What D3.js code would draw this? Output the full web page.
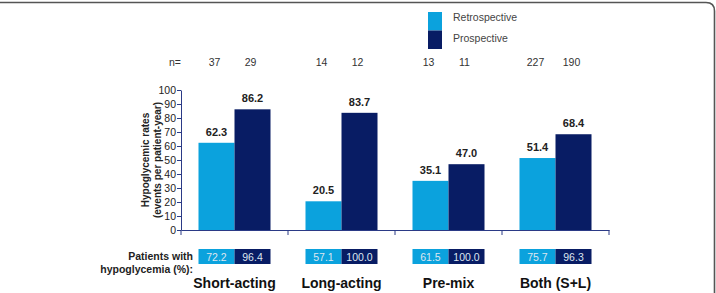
<!DOCTYPE html>
<html>
<head>
<meta charset="utf-8">
<script src="https://cdn.jsdelivr.net/npm/d3@7"></script>
<style>
  body { margin: 0; background: #fff; }
  text { font-family: "Liberation Sans", Arial, sans-serif; }
</style>
</head>
<body>
<div id="chart"></div>
<script>
// data
const categories = ['Short-acting', 'Long-acting', 'Pre-mix', 'Both (S+L)'];
const seriesNames = ['Retrospective', 'Prospective'];
const retroRates = [62.3, 20.5, 35.1, 51.4];
const prosRates = [86.2, 83.7, 47.0, 68.4];
const retroN = [37, 14, 13, 227];
const prosN = [29, 12, 11, 190];
const retroPct = ['72.2', '57.1', '61.5', '75.7'];
const prosPct = ['96.4', '100.0', '100.0', '96.3'];
const yTicks = [0, 10, 20, 30, 40, 50, 60, 70, 80, 90, 100];

const width = 716, height = 293;
const colors = ['#0ba2dd', '#081c64'];
const axisColor = '#2b3a86';
const x0 = 181;

const svg = d3.select('#chart').append('svg')
  .attr('width', width).attr('height', height);

// frame (rounded corner top-right)
svg.append('path')
  .attr('d', 'M-10,2.5 L706,2.5 Q714.5,2.5 714.5,11 L714.5,300')
  .attr('fill', 'none').attr('stroke', '#555').attr('stroke-width', 1.6);

// band: step 107, bars 72 wide, centred in each category
const x = d3.scaleBand().domain(categories).range([x0, 609])
  .paddingInner(0.327).paddingOuter(0.1635);
const sub = d3.scaleBand().domain(seriesNames).range([0, x.bandwidth()]);
const y = d3.scaleLinear().domain([0, 100]).range([230, 90]);

// y axis
const yAxis = svg.append('g').attr('transform', `translate(${x0},0)`)
  .call(d3.axisLeft(y).tickValues(yTicks).tickSize(4).tickSizeOuter(0));
yAxis.select('.domain').attr('stroke', axisColor);
yAxis.selectAll('.tick line').attr('stroke', axisColor);
yAxis.selectAll('.tick text').attr('fill', '#222').attr('font-size', 10.5)
  .attr('font-family', '"Liberation Sans", Arial, sans-serif').attr('x', -5);

// x axis
const xAxis = svg.append('g').attr('transform', 'translate(0,230)')
  .call(d3.axisBottom(x).tickSize(0).tickFormat(''));
xAxis.select('.domain').attr('stroke', axisColor);
xAxis.selectAll('.tick').remove();
const bounds = [x0].concat(categories.map(c => x(c) + x.bandwidth() / 2 + x.step() / 2));
svg.append('g').selectAll('line').data(bounds).join('line')
  .attr('x1', d => d).attr('x2', d => d).attr('y1', 230).attr('y2', 235)
  .attr('stroke', axisColor);

// y title
const yt = svg.append('text').attr('transform', 'translate(149,160) rotate(-90)')
  .attr('text-anchor', 'middle').attr('font-weight', 'bold').attr('font-size', 10)
  .attr('fill', '#222');
yt.append('tspan').attr('x', 0).attr('dy', 0).text('Hypoglycemic rates');
yt.append('tspan').attr('x', 0).attr('dy', 11.5).text('(events per patient-year)');

// bars
const series = [retroRates, prosRates];
series.forEach((vals, si) => {
  const g = svg.append('g');
  g.selectAll('rect').data(vals).join('rect')
    .attr('x', (d, i) => x(categories[i]) + sub(seriesNames[si]))
    .attr('y', d => y(d))
    .attr('width', sub.bandwidth())
    .attr('height', d => y(0) - y(d))
    .attr('fill', colors[si]);
  g.selectAll('text').data(vals).join('text')
    .attr('x', (d, i) => x(categories[i]) + sub(seriesNames[si]) + sub.bandwidth() / 2)
    .attr('y', d => y(d) - 7)
    .attr('text-anchor', 'middle').attr('font-weight', 'bold').attr('font-size', 11)
    .attr('fill', '#222')
    .text(d => d.toFixed(1));
});

// n= row
svg.append('text').attr('x', 175).attr('y', 66).attr('text-anchor', 'middle')
  .attr('font-size', 10.5).attr('fill', '#333').text('n=');
[retroN, prosN].forEach((vals, si) => {
  svg.append('g').selectAll('text').data(vals).join('text')
    .attr('x', (d, i) => x(categories[i]) + sub(seriesNames[si]) + sub.bandwidth() / 2 - 2)
    .attr('y', 66).attr('text-anchor', 'middle')
    .attr('font-size', 10.5).attr('fill', '#333').text(d => d);
});

// legend
const leg = svg.append('g');
seriesNames.forEach((s, i) => {
  leg.append('rect').attr('x', 428).attr('y', 12 + i * 18.5).attr('width', 14).attr('height', 18.5)
    .attr('fill', colors[i]);
  leg.append('text').attr('x', 453).attr('y', 21 + i * 21).attr('font-size', 10.5)
    .attr('fill', '#444').text(s);
});

// patients with hypoglycemia row
svg.append('text').attr('x', 193).attr('y', 260).attr('text-anchor', 'end')
  .attr('font-weight', 'bold').attr('font-size', 10.5).attr('fill', '#222').text('Patients with');
svg.append('text').attr('x', 193).attr('y', 273).attr('text-anchor', 'end')
  .attr('font-weight', 'bold').attr('font-size', 10.5).attr('fill', '#222').text('hypoglycemia (%):');
[retroPct, prosPct].forEach((vals, si) => {
  const g = svg.append('g');
  g.selectAll('rect').data(vals).join('rect')
    .attr('x', (d, i) => x(categories[i]) + sub(seriesNames[si]))
    .attr('y', 249).attr('width', sub.bandwidth()).attr('height', 15)
    .attr('fill', colors[si]);
  g.selectAll('text').data(vals).join('text')
    .attr('x', (d, i) => x(categories[i]) + sub(seriesNames[si]) + sub.bandwidth() / 2)
    .attr('y', 260.5).attr('text-anchor', 'middle').attr('font-size', 10.5)
    .attr('fill', '#dde6f0').text(d => d);
});

// category labels
svg.append('g').selectAll('text').data(categories).join('text')
  .attr('x', d => x(d) + x.bandwidth() / 2)
  .attr('y', 288).attr('text-anchor', 'middle').attr('font-weight', 'bold')
  .attr('font-size', 14).attr('fill', '#111').text(d => d);
</script>
</body>
</html>
